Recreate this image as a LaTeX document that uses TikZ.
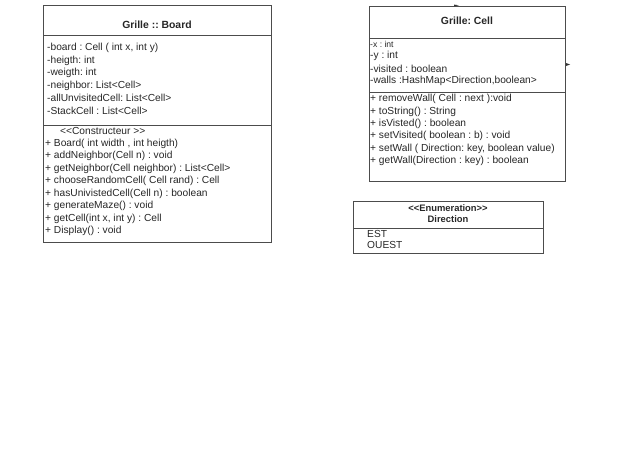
\documentclass[tikz,border=0pt]{standalone}
\usepackage{fontspec}
\setmainfont{Liberation Sans}[Ligatures=TeXOff]
\frenchspacing
\begin{document}
\begin{tikzpicture}[x=1pt,y=-1pt,
  box/.style={draw=black!70,line width=0.6pt,inner sep=0pt,anchor=north west},
  sep/.style={draw=black!70,line width=0.6pt},
  txt/.style={anchor=west,inner sep=0pt,font=\fontsize{10.2}{12}\selectfont,text=black!85},
  small/.style={anchor=west,inner sep=0pt,font=\fontsize{8.6}{10}\selectfont,text=black!85},
  ttl/.style={inner sep=0pt,font=\bfseries\fontsize{10.4}{12}\selectfont,text=black!85}]
\useasboundingbox (0,0) rectangle (640,458);
% Board
\node[box,minimum width=228pt,minimum height=237pt] (board) at (43,5) {};
\draw[sep] (43,35) -- (271,35);
\draw[sep] (43,125) -- (271,125);
\node[ttl] (bt) at (157,25) {Grille :: Board};
\node[txt] (b1) at (47,48) {-board : Cell ( int x, int y)};
\node[txt] (b2) at (47,60.5) {-heigth: int};
\node[txt] (b3) at (47,73) {-weigth: int};
\node[txt] (b4) at (47,85.5) {-neighbor: List<Cell>};
\node[txt] (b5) at (47,98) {-allUnvisitedCell: List<Cell>};
\node[txt] (b6) at (47,110.5) {-StackCell : List<Cell>};
\node[txt] (bc) at (60,131) {<<Constructeur >>};
\node[txt] (m1) at (45,143.5) {+ Board( int width , int heigth)};
\node[txt] (m2) at (45,156) {+ addNeighbor(Cell n) : void};
\node[txt] (m3) at (45,168.5) {+ getNeighbor(Cell neighbor) : List<Cell>};
\node[txt] (m4) at (45,181) {+ chooseRandomCell( Cell rand) : Cell};
\node[txt] (m5) at (45,193.5) {+ hasUnivistedCell(Cell n) : boolean};
\node[txt] (m6) at (45,206) {+ generateMaze() : void};
\node[txt] (m7) at (45,218.5) {+ getCell(int x, int y) : Cell};
\node[txt] (m8) at (45,231) {+ Display() : void};
% Cell
\node[box,minimum width=196pt,minimum height=175pt] (cell) at (369,6) {};
\draw[sep] (369,38) -- (565,38);
\draw[sep] (369,92) -- (565,92);
\node[ttl] (ct) at (467,21) {Grille: Cell};
\node[small] (c1) at (370,44) {-x : int};
\node[txt] (c2) at (370,56) {-y : int};
\node[txt] (c3) at (370,68.5) {-visited : boolean};
\node[txt] (c4) at (370,81) {-walls :HashMap<Direction,boolean>};
\node[txt] (cm1) at (370,99) {+ removeWall( Cell : next ):void};
\node[txt] (cm2) at (370,111.5) {+ toString() : String};
\node[txt] (cm3) at (370,124) {+ isVisted() : boolean};
\node[txt] (cm4) at (370,136) {+ setVisited( boolean : b) : void};
\node[txt] (cm5) at (370,148.5) {+ setWall ( Direction: key, boolean value)};
\node[txt] (cm6) at (370,161) {+ getWall(Direction : key) : boolean};
\fill[black!80] (454,4.6) -- (459,5.3) -- (454,6.2) -- cycle;
\fill[black!80] (566,63) -- (570,64.5) -- (566,66) -- cycle;
% Enumeration
\node[box,minimum width=190pt,minimum height=52pt] (enum) at (353,201) {};
\draw[sep] (353,228) -- (543,228);
\node[ttl,font=\bfseries\fontsize{9.4}{11}\selectfont] (e0) at (448,208) {<<Enumeration>>};
\node[ttl,font=\bfseries\fontsize{9.4}{11}\selectfont] (e1) at (448,219.5) {Direction};
\node[txt] (e2) at (367,233.5) {EST};
\node[txt] (e3) at (367,244.5) {OUEST};
\end{tikzpicture}
\end{document}
